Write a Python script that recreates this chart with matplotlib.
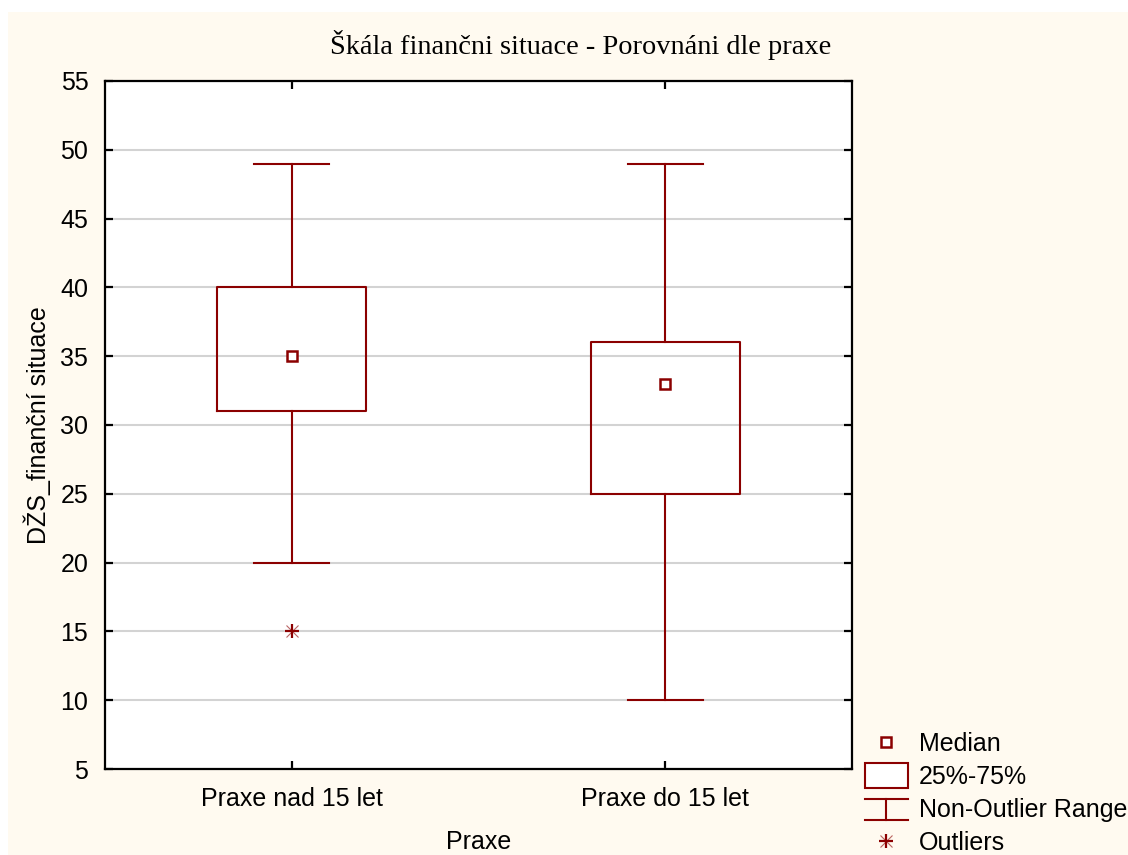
import matplotlib.pyplot as plt
from matplotlib.patches import Rectangle, Patch
from matplotlib.lines import Line2D
from matplotlib.legend_handler import HandlerBase

categories = ['Praxe nad 15 let', 'Praxe do 15 let']
medians = [35, 33]
q1 = [31, 25]
q3 = [40, 36]
whisker_low = [20, 10]
whisker_high = [49, 49]
outliers = [[15], []]
yticks = [5, 10, 15, 20, 25, 30, 35, 40, 45, 50, 55]

dark_red = '#8b0000'
cream = '#fffaf0'


class WhiskerHandler(HandlerBase):
	# draws the I-shaped glyph used for the non-outlier range
	def create_artists(self, legend, orig_handle, xdescent, ydescent, width, height, fontsize, trans):
		x0, x1 = -xdescent, -xdescent + width
		xm = (x0 + x1) / 2
		y0, y1 = -ydescent - 0.15 * height, -ydescent + 1.05 * height
		kw = dict(color=dark_red, lw=1.5, transform=trans)
		return [Line2D([x0, x1], [y1, y1], **kw),
				Line2D([xm, xm], [y0, y1], **kw),
				Line2D([x0, x1], [y0, y0], **kw)]


class BoxHandler(HandlerBase):
	# taller rectangle than the default patch handle
	def create_artists(self, legend, orig_handle, xdescent, ydescent, width, height, fontsize, trans):
		r = Rectangle((-xdescent, -ydescent - 0.2 * height), width, 1.4 * height,
					  facecolor='white', edgecolor=dark_red, lw=1.5, transform=trans)
		return [r]


if __name__ == '__main__':

	plt.rcParams['font.family'] = ['Liberation Sans', 'DejaVu Sans']

	fig = plt.figure(figsize=(11.28, 8.55), dpi=100, facecolor='white')
	fig.patches.append(Rectangle((8 / 1128, 0), 1, 1 - 12 / 855, transform=fig.transFigure,
								 facecolor=cream, edgecolor='none', zorder=-10))

	ax = fig.add_axes([105 / 1128, 1 - 769 / 855, 747 / 1128, 688 / 855])
	ax.set_facecolor('white')

	positions = list(range(1, len(categories) + 1))
	stats = []
	for i in range(len(categories)):
		stats.append(dict(med=medians[i], q1=q1[i], q3=q3[i],
						  whislo=whisker_low[i], whishi=whisker_high[i], fliers=[]))

	ax.bxp(stats, positions=positions, widths=0.4, capwidths=0.2, showfliers=False,
		   boxprops=dict(color=dark_red, lw=1.5),
		   whiskerprops=dict(color=dark_red, lw=1.5),
		   capprops=dict(color=dark_red, lw=1.5),
		   medianprops=dict(visible=False), zorder=3)

	ax.plot(positions, medians, 's', ms=7, mfc='white', mec=dark_red, mew=1.8, zorder=4)

	for p, vals in zip(positions, outliers):
		if vals:
			ax.plot([p] * len(vals), vals, '+', ms=10, mew=1.6, color=dark_red, zorder=4)
			ax.plot([p] * len(vals), vals, 'x', ms=8, mew=0.8, color=dark_red, alpha=0.6, zorder=4)

	ax.set_xlim(0.5, 2.5)
	ax.set_ylim(5, 55)
	ax.set_yticks(yticks)
	ax.set_xticks(positions)
	ax.set_xticklabels(categories)
	ax.yaxis.grid(True, color='#d3d3d3', lw=1.5, zorder=0)
	ax.set_axisbelow(True)

	for s in ax.spines.values():
		s.set_linewidth(1.6)
	ax.tick_params(direction='in', length=6, width=1.6, labelsize=18,
				   top=True, right=True, colors='black')
	ax.tick_params(axis='y', pad=12)
	ax.tick_params(axis='x', pad=13)

	ax.set_ylabel('DŽS_finanční situace', fontsize=18)
	ax.yaxis.set_label_coords(-0.072, 0.5)
	ax.set_xlabel('Praxe', fontsize=18)
	ax.xaxis.set_label_coords(0.5, -0.089)

	fig.text(581 / 1128, 1 - 45 / 855, 'Škála finančni situace - Porovnáni dle praxe',
			 family='Liberation Serif', fontsize=20.4, ha='center', va='center')

	handles = [
		Line2D([], [], ls='none', marker='s', ms=7, mfc='white', mec=dark_red, mew=1.8),
		Patch(facecolor='white', edgecolor=dark_red, lw=1.5),
		'whisker',
		(Line2D([], [], ls='none', marker='+', ms=10, mew=1.6, color=dark_red),
		 Line2D([], [], ls='none', marker='x', ms=8, mew=0.8, color=dark_red, alpha=0.6)),
	]
	labels = ['Median', '25%-75%', 'Non-Outlier Range', 'Outliers']
	fig.legend(handles, labels, loc='upper left', bbox_to_anchor=(865 / 1128, 1 - 732 / 855),
			   frameon=False, fontsize=18, borderpad=0, borderaxespad=0, handlelength=1.7,
			   handletextpad=0.45, labelspacing=0.36,
			   handler_map={str: WhiskerHandler(), Patch: BoxHandler()})

	fig.savefig('out.png', dpi=100, facecolor=fig.get_facecolor())
